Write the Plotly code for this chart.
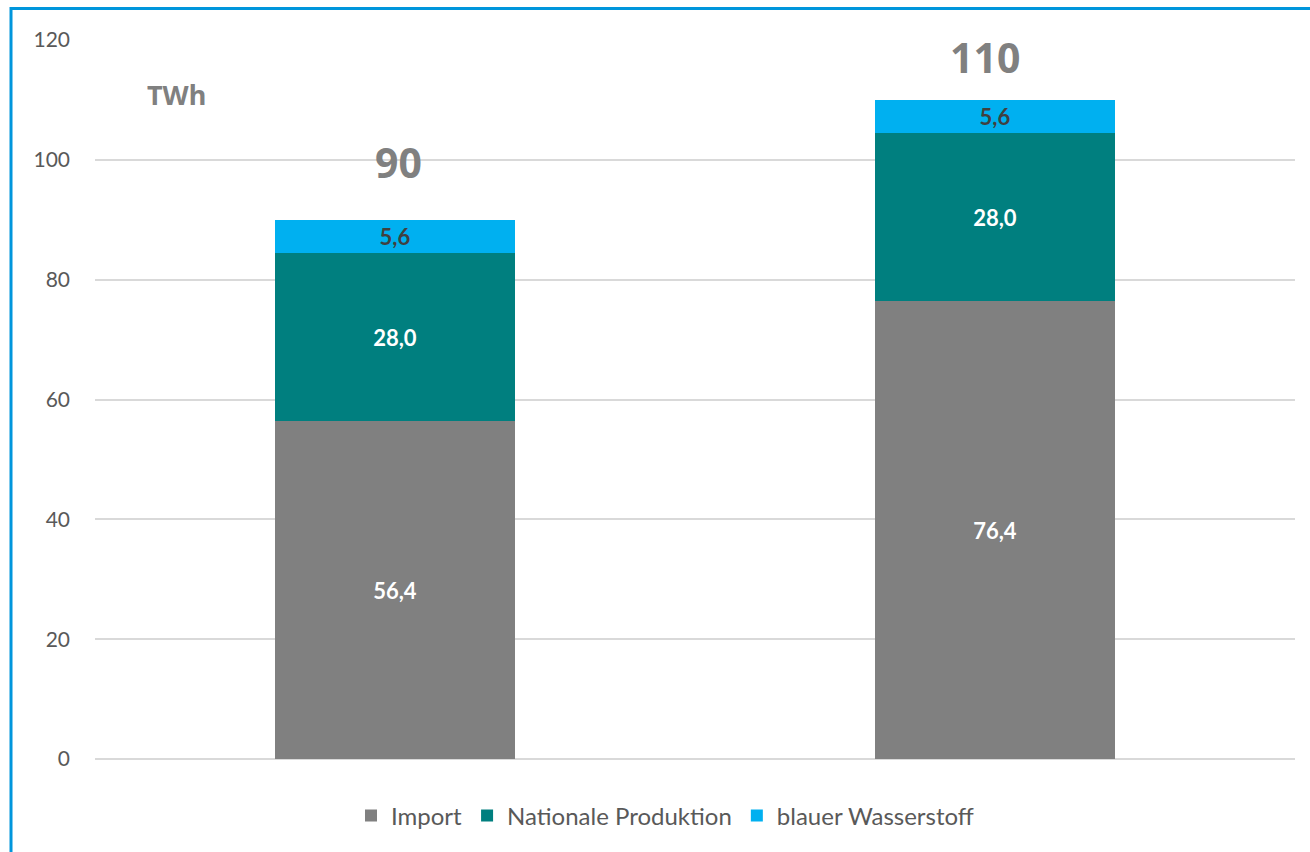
import plotly.graph_objects as go

# Stacked supply of hydrogen, TWh
categories = ["A", "B"]
import_vals = [56.4, 76.4]
national_vals = [28.0, 28.0]
blue_vals = [5.6, 5.6]
totals = [90, 110]
total_shift_px = [58, 43]
total_xshift_px = [3, -10]

series = [
    ("Import", import_vals, "#808080", "white"),
    ("Nationale Produktion", national_vals, "#007F7F", "white"),
    ("blauer Wasserstoff", blue_vals, "#00B0F0", "#404040"),
]

fig = go.Figure()
for name, vals, color, txtcolor in series:
    fig.add_trace(go.Bar(
        x=categories, y=vals, name=name,
        marker=dict(color=color, line=dict(width=0)),
        text=[f"{v:.1f}".replace(".", ",") for v in vals],
        textposition="inside", insidetextanchor="middle",
        textangle=0,
        textfont=dict(family="Lato", size=22, color=txtcolor, weight="bold"),
        width=0.4,
    ))

for cat, tot, sh, xs in zip(categories, totals, total_shift_px, total_xshift_px):
    fig.add_annotation(
        x=cat, y=tot, text=str(tot), showarrow=False,
        yshift=sh, xshift=xs, yanchor="middle",
        font=dict(family="Noto Sans", size=41, color="#808080", weight="bold"),
    )

fig.add_annotation(
    xref="paper", yref="paper", x=(176 - 95) / 1200, y=(759 - 95) / 719,
    text="TWh", showarrow=False, xanchor="center", yanchor="middle",
    font=dict(family="Noto Sans", size=27, color="#808080", weight="bold"),
)

# Frame around the chart
fig.add_shape(
    type="rect", xref="paper", yref="paper",
    x0=(11 - 95) / 1200, x1=(1340 - 95) / 1200,
    y0=(759 - 880) / 719, y1=(759 - 8.5) / 719,
    line=dict(color="#0096DC", width=3), layer="above",
)

fig.update_layout(
    width=1310, height=852,
    margin=dict(l=95, r=15, t=40, b=93),
    barmode="stack",
    plot_bgcolor="white", paper_bgcolor="white",
    showlegend=True,
    legend=dict(
        orientation="h", x=0.475, xanchor="center",
        y=(759 - 816) / 719, yanchor="middle",
        font=dict(family="Lato", size=24, color="#595959"),
        traceorder="normal", itemwidth=30,
    ),
    xaxis=dict(showticklabels=False, showgrid=False, zeroline=False,
               showline=False, range=[-0.5, 1.5]),
    yaxis=dict(range=[0, 120], dtick=20, showgrid=True,
               gridcolor="#D9D9D9", gridwidth=1.5, zeroline=True,
               zerolinecolor="#D9D9D9", zerolinewidth=1.5,
               showline=False, ticks="", ticklabelstandoff=24,
               tickfont=dict(family="Lato", size=21, color="#595959")),
)

fig.write_html("out.html")
